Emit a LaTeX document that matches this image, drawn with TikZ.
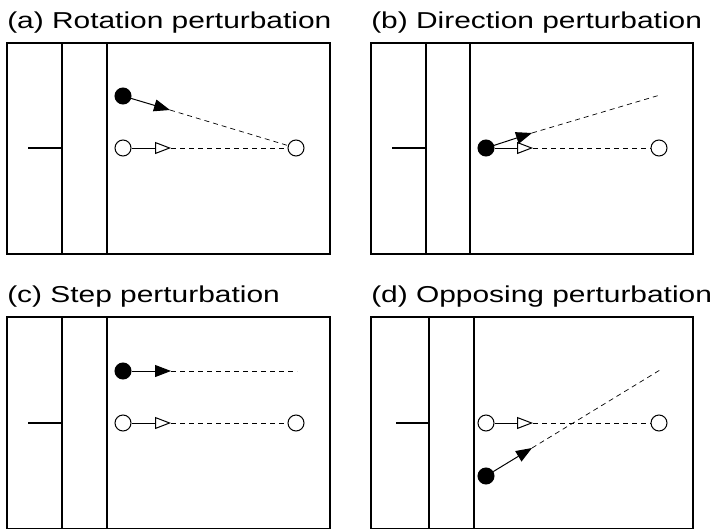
\documentclass[tikz,border=0pt]{standalone}
\usepackage{fontspec}
\setmainfont{Liberation Sans}
\usetikzlibrary{arrows.meta}

\begin{document}
\begin{tikzpicture}[x=1pt, y=-1pt,
  frame/.style={line width=1.2pt},
  hand/.style={draw, circle, line width=1pt, fill=black, minimum size=16pt, inner sep=0pt},
  goal/.style={draw, circle, line width=1pt, fill=white, minimum size=16pt, inner sep=0pt},
  move/.style={line width=1pt, -{Triangle[length=16pt, width=12pt]}},
  plan/.style={line width=1pt, -{Triangle[open, length=16pt, width=12pt]}},
  trace/.style={line width=0.7pt, dash pattern=on 5pt off 4pt},
  caption/.style={anchor=base west, inner sep=0pt, xscale=1.3, font=\fontsize{23}{27}\selectfont}]
  \useasboundingbox (0,0) rectangle (720,530);

  \node[caption] (ta) at (7,28) {(a) Rotation perturbation};
  \draw[frame] (7,43) rectangle (330,254);
  \draw[frame] (62,43) -- (62,254) (107,43) -- (107,254) (28,148) -- (62,148);
  \node[hand] (ha) at (123,96) {};
  \node[goal] (sa) at (123,148) {};
  \node[goal] (ga) at (296,148) {};
  \coordinate (ma) at (170,110);
  \coordinate (pa) at (171,148);
  \draw[move] (ha) -- (ma);
  \draw[plan] (sa) -- (pa);
  \draw[trace] (ma) -- (ga);
  \draw[trace] (pa) -- (ga);

  \node[caption] (tb) at (371,28) {(b) Direction perturbation};
  \draw[frame] (371,43) rectangle (693,254);
  \draw[frame] (426,43) -- (426,254) (470,43) -- (470,254) (392,148) -- (426,148);
  \node[hand] (hb) at (486,148) {};
  \node[goal] (gb) at (659,148) {};
  \coordinate (mb) at (532,133);
  \coordinate (pb) at (533,148);
  \coordinate (eb) at (660,95);
  \draw[plan] (hb) -- (pb);
  \draw[move] (hb) -- (mb);
  \draw[trace] (mb) -- (eb);
  \draw[trace] (pb) -- (gb);

  \node[caption] (tc) at (7,302) {(c) Step perturbation};
  \draw[frame] (7,317) rectangle (330,528.6);
  \draw[frame] (62,317) -- (62,528.6) (107,317) -- (107,528.6) (28,423) -- (62,423);
  \node[hand] (hc) at (123,371) {};
  \node[goal] (sc) at (123,423) {};
  \node[goal] (gc) at (296,423) {};
  \coordinate (mc) at (171,371);
  \coordinate (pc) at (171,423);
  \coordinate (ec) at (297,371);
  \draw[move] (hc) -- (mc);
  \draw[plan] (sc) -- (pc);
  \draw[trace] (mc) -- (ec);
  \draw[trace] (pc) -- (gc);

  \node[caption] (td) at (371,302) {(d) Opposing perturbation};
  \draw[frame] (371,317) rectangle (693,528.6);
  \draw[frame] (429,317) -- (429,528.6) (474,317) -- (474,528.6) (396,423) -- (429,423);
  \node[hand] (hd) at (486,476) {};
  \node[goal] (sd) at (486,423) {};
  \node[goal] (gd) at (659,423) {};
  \coordinate (md) at (532,448);
  \coordinate (pd) at (533,423);
  \coordinate (ed) at (660,370);
  \draw[move] (hd) -- (md);
  \draw[plan] (sd) -- (pd);
  \draw[trace] (md) -- (ed);
  \draw[trace] (pd) -- (gd);
\end{tikzpicture}
\end{document}
